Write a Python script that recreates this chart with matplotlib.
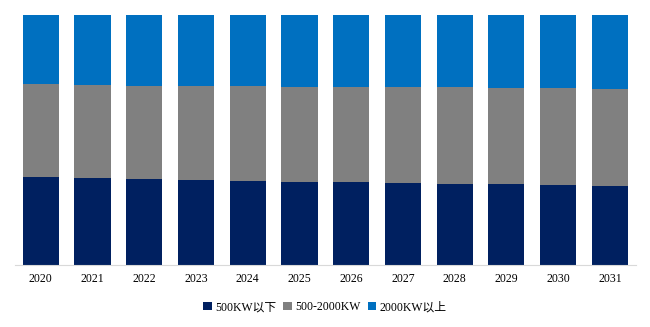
import numpy as np
import matplotlib.pyplot as plt
from matplotlib.patches import Patch

plt.rcParams['font.family'] = ['Liberation Serif', 'Noto Sans CJK SC', 'DejaVu Sans']

years = ['2020', '2021', '2022', '2023', '2024', '2025',
         '2026', '2027', '2028', '2029', '2030', '2031']
below_500 = [35.1, 34.9, 34.4, 34.0, 33.6, 33.2, 33.0, 32.8, 32.4, 32.2, 32.0, 31.6]
above_2000 = [27.7, 28.0, 28.4, 28.5, 28.6, 28.7, 28.8, 28.9, 29.0, 29.2, 29.3, 29.6]
mid = [100 - a - b for a, b in zip(below_500, above_2000)]

names = ['500KW以下', '500-2000KW', '2000KW以上']
colors = ['#002060', '#808080', '#0070C0']

fig = plt.figure(figsize=(6.5, 3.27), dpi=100)
ax = fig.add_axes([0.023, 0.19, 0.955, 0.764])

x = np.arange(len(years))
bottom = np.zeros(len(years))
for vals, c in zip([below_500, mid, above_2000], colors):
    ax.bar(x, vals, width=0.7, bottom=bottom, color=c)
    bottom += np.array(vals)

ax.set_xlim(-0.5, len(years) - 0.5)
ax.set_ylim(0, 100)
ax.set_xticks(x)
ax.set_xticklabels(years, fontsize=8.5)
ax.tick_params(axis='x', length=0, pad=6)
ax.set_yticks([])
for s in ['top', 'right', 'left']:
    ax.spines[s].set_visible(False)
ax.spines['bottom'].set_color('#d9d9d9')

handles = [Patch(facecolor=c) for c in colors]
fig.legend(handles, names, loc='center', bbox_to_anchor=(0.5, 0.06), ncol=3,
           frameon=False, fontsize=8.5, handlelength=0.7, handleheight=0.7,
           handletextpad=0.3, columnspacing=0.6)

fig.savefig('out.png', dpi=100)
